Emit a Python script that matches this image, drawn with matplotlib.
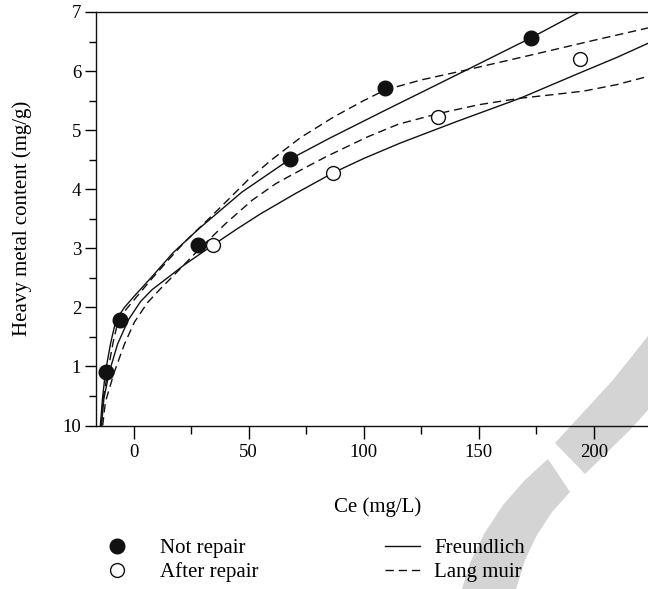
import numpy as np
import matplotlib
matplotlib.use("Agg")
import matplotlib.pyplot as plt
from matplotlib.lines import Line2D
from matplotlib.patches import Polygon
from matplotlib.ticker import MultipleLocator

# ---- data ----
not_repair_x = [-12.0, -6.0, 28.1, 68.0, 109.3, 172.6]
not_repair_y = [0.91, 1.79, 3.05, 4.51, 5.72, 6.56]
after_repair_x = [34.3, 86.8, 132.4, 194.0]
after_repair_y = [3.05, 4.28, 5.23, 6.20]

# fitted curves
freund_nr_x = [-14.5, -13.6, -12.3, -10, -7.7, -4, 0, 7.5, 17, 28, 47, 68, 85, 108.5, 144.8, 172.6, 193.3, 200]
freund_nr_y = [0, 0.45, 0.91, 1.4, 1.79, 2.0, 2.18, 2.5, 2.92, 3.32, 3.95, 4.51, 4.86, 5.32, 6.02, 6.56, 6.99, 7.13]
lang_nr_x = [-14.2, -13.3, -11.3, -9, -6.7, -3, 0, 8.2, 15, 22, 30, 41, 50, 60, 72.4, 86.8, 100, 109.3, 125, 144.8, 173.7, 200, 223.6]
lang_nr_y = [0, 0.45, 0.91, 1.4, 1.79, 1.98, 2.12, 2.5, 2.8, 3.1, 3.4, 3.82, 4.17, 4.5, 4.87, 5.22, 5.5, 5.68, 5.85, 6.02, 6.28, 6.52, 6.73]
freund_ar_x = [-14.0, -13.0, -10.6, -7, -2.3, 3, 8, 14.7, 22, 34.3, 45, 55, 70, 86.8, 100, 115.8, 140, 168, 194, 210, 223.6]
freund_ar_y = [0, 0.45, 0.91, 1.38, 1.79, 2.1, 2.3, 2.5, 2.72, 3.05, 3.33, 3.58, 3.92, 4.28, 4.52, 4.78, 5.14, 5.54, 5.97, 6.23, 6.47]
lang_ar_x = [-13.5, -12.3, -8.4, -4, 0.3, 6, 12, 17.6, 28.1, 40, 51.7, 62, 72.4, 83.6, 101.3, 115, 132.4, 150, 168, 182, 195.5, 210, 223.6]
lang_ar_y = [0, 0.4, 0.91, 1.38, 1.75, 2.08, 2.33, 2.55, 2.97, 3.42, 3.82, 4.1, 4.32, 4.55, 4.88, 5.1, 5.28, 5.43, 5.54, 5.6, 5.66, 5.77, 5.91]

x_ticks = [0, 50, 100, 150, 200]
x_ticklabels = ["0", "50", "100", "150", "200"]
y_ticks = [0, 1, 2, 3, 4, 5, 6, 7]
y_ticklabels = ["10", "1", "2", "3", "4", "5", "6", "7"]
marker_labels = ["Not repair", "After repair"]
line_labels = ["Freundlich", "Lang muir"]

plt.rcParams['font.family'] = ['Liberation Serif', 'DejaVu Serif']

W, H = 648, 589
fig = plt.figure(figsize=(W / 100, H / 100), dpi=100)

def fx(px):
    return px / W

def fy(py):
    return 1 - py / H

# watermark (grey shapes behind everything)
wm = '#d4d4d4'
upper_band = [(555, 443), (613, 380), (648, 336), (648, 410), (630, 430), (585, 474)]
lower_band = [(462, 589), (470, 563), (484, 534), (503, 505), (525, 480), (548, 459),
              (570, 492), (552, 512), (537, 535), (525, 560), (516, 589)]
for poly in (upper_band, lower_band):
    fig.patches.append(Polygon([(fx(a), fy(b)) for a, b in poly], closed=True,
                               transform=fig.transFigure, facecolor=wm,
                               edgecolor='none', zorder=-5))

ax = fig.add_axes([fx(96), fy(425.5), fx(648 - 96), (425.5 - 12) / H])
ax.patch.set_alpha(0)

lw = 1.0
dash = (0, (6, 3.5))
ax.plot(freund_nr_x, freund_nr_y, color='#111111', lw=lw, zorder=2)
ax.plot(lang_nr_x, lang_nr_y, color='#111111', lw=lw, ls=dash, zorder=2)
ax.plot(freund_ar_x, freund_ar_y, color='#111111', lw=lw, zorder=2)
ax.plot(lang_ar_x, lang_ar_y, color='#111111', lw=lw, ls=dash, zorder=2)

ax.plot(not_repair_x, not_repair_y, 'o', ms=10.5, mfc='#111111', mec='#111111', zorder=3)
ax.plot(after_repair_x, after_repair_y, 'o', ms=10, mfc='white', mec='#111111', mew=1.0, zorder=3)

ax.set_xlim(-16.4, 223.6)
ax.set_ylim(0, 7)
ax.spines['right'].set_visible(False)
for s in ('left', 'top', 'bottom'):
    ax.spines[s].set_linewidth(1.0)
    ax.spines[s].set_color('#111111')

ax.set_xticks(x_ticks)
ax.set_xticklabels(x_ticklabels)
ax.set_yticks(y_ticks)
ax.set_yticklabels(y_ticklabels)
ax.xaxis.set_minor_locator(MultipleLocator(25))
ax.yaxis.set_minor_locator(MultipleLocator(0.5))
ax.tick_params(axis='x', which='major', direction='out', length=9.5, width=1.0, pad=4, labelsize=13.5)
ax.tick_params(axis='x', which='minor', direction='out', length=5.5, width=1.0)
ax.tick_params(axis='y', which='major', direction='out', length=7.7, width=1.0, pad=3, labelsize=13.5)
ax.tick_params(axis='y', which='minor', direction='out', length=5, width=1.0)

ax.set_xlabel("Ce (mg/L)", fontsize=15)
ax.set_ylabel("Heavy metal content (mg/g)", fontsize=15)
ax.xaxis.set_label_coords((378 - 96) / 552, (425.5 - 497) / 413.5)
ax.yaxis.set_label_coords((32 - 96) / 552, 0.5)

# legends
h1 = [Line2D([], [], ls='none', marker='o', ms=10.5, mfc='#111111', mec='#111111'),
      Line2D([], [], ls='none', marker='o', ms=10, mfc='white', mec='#111111', mew=1.0)]
h2 = [Line2D([], [], color='#111111', lw=lw),
      Line2D([], [], color='#111111', lw=lw, ls=dash)]
leg1 = fig.legend(h1, marker_labels, loc='center left', bbox_to_anchor=(fx(100), fy(560.5)),
                  frameon=False, fontsize=15, handlelength=1.63, handletextpad=1.25,
                  labelspacing=0.2, borderpad=0, borderaxespad=0)
leg2 = fig.legend(h2, line_labels, loc='center left', bbox_to_anchor=(fx(385), fy(560.5)),
                  frameon=False, fontsize=15, handlelength=1.7, handletextpad=0.67,
                  labelspacing=0.2, borderpad=0, borderaxespad=0)

fig.savefig("out.png", dpi=100)
